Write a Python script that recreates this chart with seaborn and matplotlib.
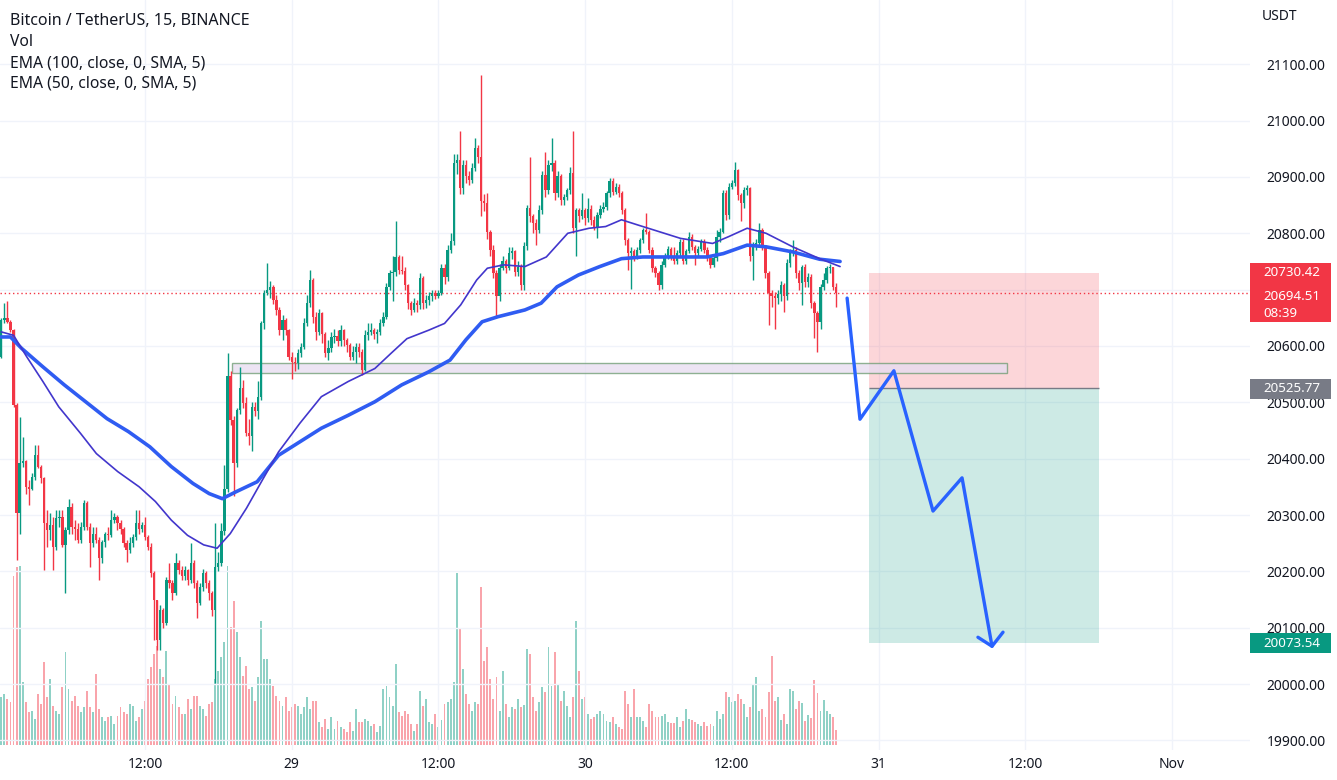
import numpy as np
import pandas as pd
import matplotlib
matplotlib.use("Agg")
import matplotlib.pyplot as plt
import seaborn as sns
from matplotlib.patches import Rectangle
from matplotlib.transforms import blended_transform_factory

# ---------------- data (15-minute candles, BTC/USDT) ----------------
opens = [
    20581,20646,20649,20643,20628,20495,20303,20392,20395,20350,
    20347,20368,20406,20386,20365,20285,20273,20282,20244,20294,
    20297,20247,20273,20315,20279,20276,20255,20279,20321,20279,
    20250,20267,20255,20223,20252,20267,20264,20291,20297,20285,
    20276,20250,20238,20250,20261,20285,20276,20282,
    20261,20244,20197,20149,20078,20131,20108,20185,20179,20161,
    20214,20202,20191,20202,20185,20214,20179,20143,20173,20197,
    20179,20161,20131,20208,20214,20271,20347,20546,20469,20392,
    20486,20525,20498,20445,20440,20492,20484,20510,20640,20694,
    20699,20705,20682,20664,
    20628,20646,20628,20581,20572,20569,20587,20599,20640,20676,
    20717,20652,20625,20658,20622,20587,20596,20616,20618,20608,
    20628,20610,20602,20581,20590,20599,20590,20557,20619,20625,
    20628,20622,20625,20640,20652,20705,20729,20732,20758,20735,
    20733,20708,20676,20664,20676,20672,20720,
    20676,20682,20688,20694,20688,20694,20738,20723,20771,20786,
    20925,20930,20880,20922,20901,20895,20916,20951,20936,20857,
    20854,20803,20771,20729,20688,20738,20750,20738,20765,20768,
    20732,20741,20709,20777,20845,20830,20818,20806,20842,20904,
    20877,20922,20925,20871,20901,
    20859,20865,20877,20907,20809,20841,20830,20841,20827,20844,
    20824,20812,20833,20844,20847,20871,20892,20874,20883,20871,
    20841,20788,20765,20768,20759,20770,20788,20806,20803,20770,
    20738,20729,20708,20744,20759,20773,20759,20750,20765,20785,
    20750,20768,20794,20776,20765,20773,
    20785,20770,20756,20744,20756,20794,20803,20871,20833,20883,
    20889,20912,20868,20853,20877,20880,20759,20776,20782,20806,
    20776,20729,20694,20688,20685,20692,20708,20688,20747,20765,
    20770,20729,20711,20741,20714,20723,20676,20658,20643,20705,
    20717,20738,20740,20705,
]
highs = [
    20649,20676,20679,20646,20631,20498,20474,20439,20397,20362,
    20374,20424,20424,20389,20368,20309,20303,20297,20309,20309,
    20309,20279,20329,20321,20291,20285,20288,20326,20324,20285,
    20279,20279,20261,20255,20270,20279,20309,20303,20300,20291,
    20279,20255,20261,20267,20309,20309,20288,20297,
    20265,20250,20200,20150,20140,20135,20190,20214,20185,20232,
    20220,20210,20210,20205,20250,20220,20185,20180,20205,20200,
    20185,20165,20285,20235,20285,20389,20587,20555,20475,20490,
    20563,20540,20510,20470,20500,20500,20537,20645,20700,20747,
    20715,20708,20690,20670,
    20655,20650,20630,20590,20580,20595,20605,20650,20690,20735,
    20720,20660,20665,20660,20625,20610,20625,20630,20628,20638,
    20630,20615,20605,20600,20605,20605,20595,20628,20640,20640,
    20632,20630,20648,20660,20712,20735,20760,20821,20762,20760,
    20740,20710,20680,20685,20682,20730,20725,
    20690,20695,20700,20700,20700,20745,20745,20780,20800,20940,
    20940,20981,20930,20930,20910,20925,20969,20956,21081,20870,
    20871,20806,20780,20735,20745,20760,20755,20775,20775,20770,
    20750,20745,20785,20850,20936,20835,20825,20850,20910,20945,
    20930,20969,20930,20910,20905,
    20870,20880,20918,20981,20845,20845,20871,20845,20862,20850,
    20830,20838,20850,20855,20875,20898,20898,20890,20887,20875,
    20845,20792,20775,20772,20775,20792,20810,20836,20806,20775,
    20742,20733,20750,20765,20778,20776,20776,20770,20790,20790,
    20772,20803,20798,20780,20778,20790,
    20790,20775,20760,20760,20806,20810,20877,20877,20890,20895,
    20927,20915,20872,20882,20885,20883,20785,20790,20818,20810,
    20780,20733,20700,20695,20700,20715,20712,20755,20772,20788,
    20775,20735,20744,20745,20730,20728,20680,20662,20710,20729,
    20742,20745,20741,20712,
]
lows = [
    20578,20640,20640,20625,20492,20220,20267,20386,20338,20318,
    20344,20362,20383,20356,20202,20244,20255,20202,20238,20279,
    20244,20161,20267,20267,20255,20250,20250,20273,20273,20208,
    20244,20250,20184,20214,20244,20255,20261,20285,20273,20267,
    20244,20217,20232,20244,20255,20267,20270,20255,
    20238,20190,20078,20060,20060,20100,20105,20170,20150,20158,
    20195,20185,20185,20175,20180,20170,20117,20140,20165,20170,
    20150,20120,20001,20200,20210,20265,20340,20460,20333,20385,
    20480,20490,20440,20425,20413,20475,20470,20505,20630,20690,
    20685,20675,20655,20620,
    20610,20620,20575,20542,20555,20560,20580,20595,20635,20670,
    20640,20610,20620,20605,20580,20575,20590,20605,20600,20600,
    20600,20590,20575,20575,20570,20580,20548,20555,20610,20620,
    20612,20605,20620,20635,20648,20700,20680,20725,20728,20728,
    20700,20665,20655,20660,20660,20665,20665,
    20668,20672,20680,20683,20685,20690,20710,20715,20765,20780,
    20905,20870,20870,20890,20885,20890,20910,20925,20830,20840,
    20790,20760,20720,20649,20680,20735,20730,20735,20755,20725,
    20725,20700,20700,20770,20820,20800,20780,20800,20835,20865,
    20870,20910,20860,20865,20850,
    20850,20860,20870,20800,20759,20820,20825,20815,20820,20815,
    20805,20791,20828,20838,20842,20865,20868,20870,20865,20835,
    20780,20735,20702,20750,20755,20765,20783,20798,20765,20732,
    20722,20699,20702,20740,20755,20752,20745,20745,20760,20745,
    20745,20765,20770,20744,20760,20768,
    20765,20750,20738,20740,20750,20785,20800,20824,20825,20878,
    20884,20860,20821,20845,20868,20750,20717,20770,20778,20770,
    20720,20637,20670,20631,20675,20680,20660,20682,20740,20760,
    20720,20700,20673,20705,20705,20668,20614,20590,20630,20700,
    20712,20730,20700,20670,
]
closes = [
    20646,20649,20643,20628,20495,20303,20392,20395,20350,20347,
    20368,20406,20386,20365,20285,20273,20282,20244,20294,20297,
    20247,20273,20315,20279,20276,20255,20279,20321,20279,20250,
    20267,20255,20223,20252,20267,20264,20291,20297,20285,20276,
    20250,20238,20250,20261,20285,20276,20282,20261,
    20244,20197,20149,20078,20131,20108,20185,20179,20161,20214,
    20202,20191,20202,20185,20214,20179,20143,20173,20197,20179,
    20161,20131,20208,20214,20271,20347,20546,20469,20392,20486,
    20525,20498,20445,20440,20492,20484,20510,20640,20694,20699,
    20705,20682,20664,20628,
    20646,20628,20581,20572,20569,20587,20599,20640,20676,20717,
    20652,20625,20658,20622,20587,20596,20616,20618,20608,20628,
    20610,20602,20581,20590,20599,20590,20557,20619,20625,20628,
    20622,20625,20640,20652,20705,20729,20732,20758,20735,20733,
    20708,20676,20664,20676,20672,20720,20676,
    20682,20688,20694,20688,20694,20738,20723,20771,20786,20925,
    20930,20880,20922,20901,20895,20916,20951,20936,20857,20854,
    20803,20771,20729,20688,20738,20750,20738,20765,20768,20732,
    20741,20709,20777,20845,20830,20818,20806,20842,20904,20877,
    20922,20925,20871,20901,20859,
    20865,20877,20907,20809,20841,20830,20841,20827,20844,20824,
    20812,20833,20844,20847,20871,20892,20874,20883,20871,20841,
    20788,20765,20768,20759,20770,20788,20806,20803,20770,20738,
    20729,20708,20744,20759,20773,20759,20750,20765,20785,20750,
    20768,20794,20776,20765,20773,20785,
    20770,20756,20744,20756,20794,20803,20871,20833,20883,20889,
    20912,20868,20853,20877,20880,20759,20776,20782,20806,20776,
    20729,20694,20688,20685,20692,20708,20688,20747,20765,20770,
    20729,20711,20741,20714,20723,20676,20658,20643,20705,20717,
    20738,20740,20705,20694,
]
volumes = [
    48,51,46,43,169,178,179,63,43,33,
    34,26,51,41,83,48,66,39,34,31,
    58,93,56,44,49,39,33,38,54,38,
    33,71,36,28,24,28,29,21,29,
    38,33,31,41,39,24,28,36,44,66,
    78,91,99,76,68,94,61,41,49,38,
    31,31,46,36,49,49,39,36,29,41,
    43,66,74,88,103,179,118,144,113,88,
    69,79,56,58,44,68,124,86,86,66,
    59,49,44,39,48,34,38,41,39,
    31,38,48,36,44,44,23,18,26,16,
    28,16,24,18,16,13,23,14,36,
    23,23,26,24,19,21,13,19,56,59,
    48,39,81,33,29,34,31,21,14,21,
    54,39,46,23,21,31,18,25,41,43,
    46,63,172,116,76,51,41,34,43,41,
    158,84,98,66,46,68,34,74,41,28,
    38,36,46,38,40,96,91,48,34,43,
    58,53,98,59,93,61,44,54,39,28,
    48,124,74,46,48,31,26,28,31,
    34,31,24,23,28,21,18,16,54,41,
    28,56,28,28,24,18,41,34,28,28,
    29,31,23,22,22,28,18,24,36,
    26,25,23,21,19,23,19,21,19,34,
    26,31,53,48,43,44,51,46,41,28,
    38,61,68,34,36,28,53,89,44,
    48,25,31,21,56,54,36,44,42,24,
    30,27,65,52,34,45,34,31,28,15,
]
ema100_idx = [0, 3, 6.6, 13.6, 20.6, 27.6, 34.6, 41.6, 48.6, 55.6, 62.7, 68, 72.3,
              76.7, 83.7, 90.7, 97.7, 104.7, 113.5, 122.2, 131, 139.8, 146.8, 152,
              157.3, 162.5, 171.3, 176.6, 181.8, 188.8, 195.8, 202.9, 209.9, 220.4,
              230.9, 236.2, 244, 250.2, 258.9, 267.7, 274.4]
ema100_val = [20616, 20616, 20596, 20563, 20531, 20501, 20471, 20448, 20421, 20386,
              20356, 20338, 20329, 20341, 20359, 20406, 20430, 20454, 20477, 20501,
              20531, 20554, 20575, 20611, 20643, 20652, 20664, 20676, 20705, 20726,
              20741, 20755, 20758, 20758, 20758, 20764, 20779, 20776, 20767, 20754,
              20750]
ema50_idx = [0, 4, 8.3, 13.6, 18.8, 25.9, 31.1, 38.1, 45.1, 50.4, 55.6, 60.9, 66.2,
             70.6, 74.9, 80.2, 85.4, 90.7, 97.7, 104.7, 113.5, 122.2, 127.5, 132.7,
             139.8, 145, 150.3, 155.5, 159, 164.3, 171.3, 178.3, 185.3, 192.3, 197.7,
             202.9, 208.1, 213.4, 222.2, 232.7, 237.9, 244, 250.2, 258.9, 267.7,
             274.4]
ema50_val = [20625, 20619, 20581, 20537, 20492, 20445, 20409, 20377, 20350, 20324,
             20291, 20264, 20247, 20241, 20267, 20312, 20362, 20412, 20463, 20510,
             20537, 20560, 20587, 20613, 20628, 20640, 20673, 20717, 20738, 20744,
             20741, 20758, 20800, 20809, 20812, 20824, 20815, 20806, 20791, 20782,
             20794, 20809, 20800, 20776, 20755, 20741]

tick_idx = [47, 95, 143, 191, 239, 287, 335, 383]
tick_labels = ["12:00", "29", "12:00", "30", "12:00", "31", "12:00", "Nov"]
price_ticks = [19900, 20000, 20100, 20200, 20300, 20400, 20500, 20600,
               20700, 20800, 20900, 21000, 21100]
hidden_price_labels = [20700]   # fully covered by the live-price tag

last_price = 20694.51
stop_price = 20730.42
entry_price = 20525.77
target_price = 20073.54
countdown = "08:39"

zone_top, zone_bottom = 20570, 20552
zone_start, zone_end = 75.5, 329.0
pos_start, pos_end = 283.9, 359.1
path_idx = [276.7, 280.9, 292.0, 304.8, 314.3, 324.1]
path_price = [20685, 20470, 20556, 20307, 20366, 20067]
arrow_idx = [319.5, 324.1, 327.7]
arrow_price = [20083, 20067, 20092]

# ---------------- styling ----------------
UP = "#089981"
DOWN = "#f23645"
sns.set_theme(style="white")
plt.rcParams["font.family"] = ["Noto Sans", "DejaVu Sans"]

df = pd.DataFrame({"open": opens, "high": highs, "low": lows,
                   "close": closes, "volume": volumes})
df["idx"] = np.arange(len(df))
df["up"] = df["close"] >= df["open"]
cols = np.where(df["up"], UP, DOWN)

W, H = 1337, 780
fig = plt.figure(figsize=(W / 100, H / 100), dpi=100)
fig.patch.set_facecolor("white")
ax = fig.add_axes([0, 30 / H, 1250 / W, 750 / H])
axv = ax.twinx()
ax.set_zorder(axv.get_zorder() + 1)
ax.patch.set_visible(False)

ax.set_xlim(-0.425, 408.5)
ax.set_ylim(19882.9, 21214.1)
axv.set_ylim(-5.5, 744.5)
axv.set_yticks([])

# grid / ticks
ax.set_yticks(price_ticks)
ax.set_yticklabels(["" if p in hidden_price_labels else f"{p:.2f}"
                    for p in price_ticks])
ax.set_xticks(tick_idx)
ax.set_xticklabels(tick_labels)
ax.grid(True, color="#f0f3fa", linewidth=1)
ax.set_axisbelow(True)
for a in (ax, axv):
    for s in a.spines.values():
        s.set_visible(False)
ax.yaxis.tick_right()
ax.tick_params(axis="y", length=0, pad=12, labelsize=10, labelcolor="#131722")
ax.tick_params(axis="x", length=0, pad=5, labelsize=10, labelcolor="#131722")
for lab in ax.get_yticklabels():
    lab.set_horizontalalignment("left")

# volume
axv.bar(df["idx"], df["volume"], width=0.62, color=cols, alpha=0.45, linewidth=0)

# trade position boxes
ax.add_patch(Rectangle((pos_start, entry_price), pos_end - pos_start,
                       stop_price - entry_price, facecolor=DOWN, alpha=0.2,
                       linewidth=0, zorder=1))
ax.add_patch(Rectangle((pos_start, target_price), pos_end - pos_start,
                       entry_price - target_price, facecolor=UP, alpha=0.2,
                       linewidth=0, zorder=1))
ax.hlines(entry_price, pos_start, pos_end, color="#787b86", linewidth=1, zorder=1.5)

# support zone
ax.add_patch(Rectangle((zone_start, zone_bottom), zone_end - zone_start,
                       zone_top - zone_bottom, facecolor="#e6dcf0", alpha=0.75,
                       edgecolor="#6c9b70", linewidth=1, zorder=1.6))

# current price dotted line
ax.axhline(last_price, color=DOWN, linestyle=(0, (1, 2)), linewidth=1, zorder=1.7)

# candles
ax.vlines(df["idx"], df["low"], df["high"], colors=cols, linewidth=1, zorder=3)
body_lo = np.minimum(df["open"], df["close"])
body_h = np.maximum(np.abs(df["close"] - df["open"]), 1.5)
ax.bar(df["idx"], body_h, bottom=body_lo, width=0.75, color=cols,
       linewidth=0, zorder=4)

# EMAs
sns.lineplot(x=ema100_idx, y=ema100_val, ax=ax, color="#2f5cf2", linewidth=2.6,
             zorder=5, legend=False)
sns.lineplot(x=ema50_idx, y=ema50_val, ax=ax, color="#4236cc", linewidth=1.2,
             zorder=5, legend=False)

# forecast path
sns.lineplot(x=path_idx, y=path_price, ax=ax, sort=False, estimator=None,
             color="#2962ff", linewidth=2.4, zorder=6, legend=False)
sns.lineplot(x=arrow_idx, y=arrow_price, ax=ax, sort=False, estimator=None,
             color="#2962ff", linewidth=2.4, zorder=6, legend=False)
ax.set_xlabel("")
ax.set_ylabel("")

# right scale labels
bt = blended_transform_factory(ax.transAxes, ax.transData)
def price_box(lo, hi, color):
    ax.add_patch(Rectangle((1.0, lo), 0.0648, hi - lo, transform=bt,
                           facecolor=color, edgecolor="none", clip_on=False,
                           zorder=20))
price_box(20642.5, 20747.2, DOWN)
price_box(20505.9, 20541.4, "#787b86")
price_box(20055.0, 20090.5, UP)
tx = 1263 / 1250
box_texts = [(20731.3, f"{stop_price:.2f}"), (20688.7, f"{last_price:.2f}"),
             (20658.5, countdown), (entry_price - 2, f"{entry_price:.2f}"),
             (target_price - 1, f"{target_price:.2f}")]
for yv, s in box_texts:
    ax.text(tx, yv, s, transform=bt, color="white", fontsize=9.6,
            va="center", ha="left", zorder=21, clip_on=False)
fig.text(1262 / W, 1 - 17 / H, "USDT", fontsize=10, color="#131722",
         va="center", ha="left")

# legend texts
fig.text(10 / W, 1 - 21 / H, "Bitcoin / TetherUS, 15, BINANCE", fontsize=11.5,
         fontweight="bold", color="#131722", va="center", ha="left")
fig.text(10 / W, 1 - 42 / H, "Vol", fontsize=11.3, color="#131722",
         va="center", ha="left")
fig.text(10 / W, 1 - 63 / H, "EMA (100, close, 0, SMA, 5)", fontsize=11.3,
         color="#131722", va="center", ha="left")
fig.text(10 / W, 1 - 84 / H, "EMA (50, close, 0, SMA, 5)", fontsize=11.3,
         color="#131722", va="center", ha="left")

fig.savefig("out.png", dpi=100, facecolor="white")
